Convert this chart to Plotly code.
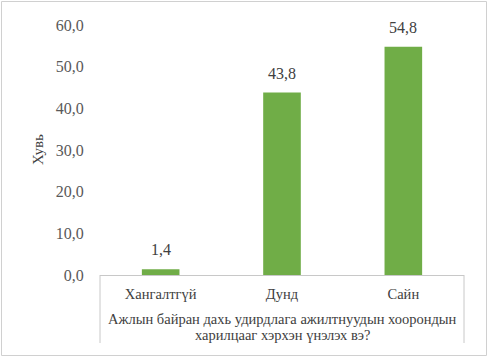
import plotly.graph_objects as go

categories = ["Хангалтгүй", "Дунд", "Сайн"]
values = [1.4, 43.8, 54.8]
y_ticks = [0, 10, 20, 30, 40, 50, 60]
y_tick_labels = [f"{v:.1f}".replace(".", ",") for v in y_ticks]
bar_labels = [f"{v:.1f}".replace(".", ",") for v in values]
x_title_lines = ["Ажлын байран дахь удирдлага ажилтнуудын хоорондын", "харилцааг хэрхэн үнэлэх вэ?"]
y_title = "Хувь"

FONT = "Liberation Serif"
TXT = "#404040"

fig = go.Figure(go.Bar(
    x=categories, y=values, marker_color="#70AD47", marker_line_width=0,
))

L, T, W, H = 100, 25, 364, 250
fig.update_layout(
    width=488, height=357,
    margin=dict(l=L, r=488 - L - W, t=T, b=357 - T - H),
    paper_bgcolor="white", plot_bgcolor="white",
    bargap=0.69, showlegend=False,
)
fig.update_yaxes(
    range=[0, 60], tickvals=y_ticks, ticktext=y_tick_labels,
    showgrid=False, zeroline=False, showline=False,
    ticks="outside", ticklen=12, tickcolor="rgba(0,0,0,0)",
    tickfont=dict(family=FONT, size=16, color="#595959"),
)
fig.update_xaxes(
    showgrid=False, showline=True, linecolor="#c8c8c8", linewidth=1,
    ticks="outside", ticklen=6, tickcolor="rgba(0,0,0,0)",
    tickfont=dict(family=FONT, size=14.5, color=TXT),
)

def px(x):
    return (x - L) / W

def py(y):
    return (T + H - y) / H

shapes = [
    dict(type="line", xref="paper", yref="paper", x0=0, x1=0, y0=0, y1=py(343), line=dict(color="#c8c8c8", width=1)),
    dict(type="line", xref="paper", yref="paper", x0=1, x1=1, y0=0, y1=py(343), line=dict(color="#c8c8c8", width=1)),
    dict(type="rect", xref="paper", yref="paper", x0=px(1.5), x1=px(486.5), y0=py(355.5), y1=py(1.5),
         line=dict(color="#d0d0d0", width=1)),
]
fig.update_layout(shapes=shapes)

for c, v, t in zip(categories, values, bar_labels):
    fig.add_annotation(x=c, y=v, text=t, showarrow=False, yanchor="middle", yshift=19.5,
                       font=dict(family=FONT, size=16, color=TXT))

for line, yc in zip(x_title_lines, [319, 335]):
    fig.add_annotation(text=line, xref="paper", yref="paper", x=px(282), y=py(yc),
                       showarrow=False, font=dict(family=FONT, size=14.5, color=TXT),
                       xanchor="center", yanchor="middle")
fig.add_annotation(text=y_title, xref="paper", yref="paper", x=px(38), y=0.5, textangle=-90,
                   showarrow=False, font=dict(family=FONT, size=15, color=TXT),
                   xanchor="center", yanchor="middle")

fig.write_html("out.html")
